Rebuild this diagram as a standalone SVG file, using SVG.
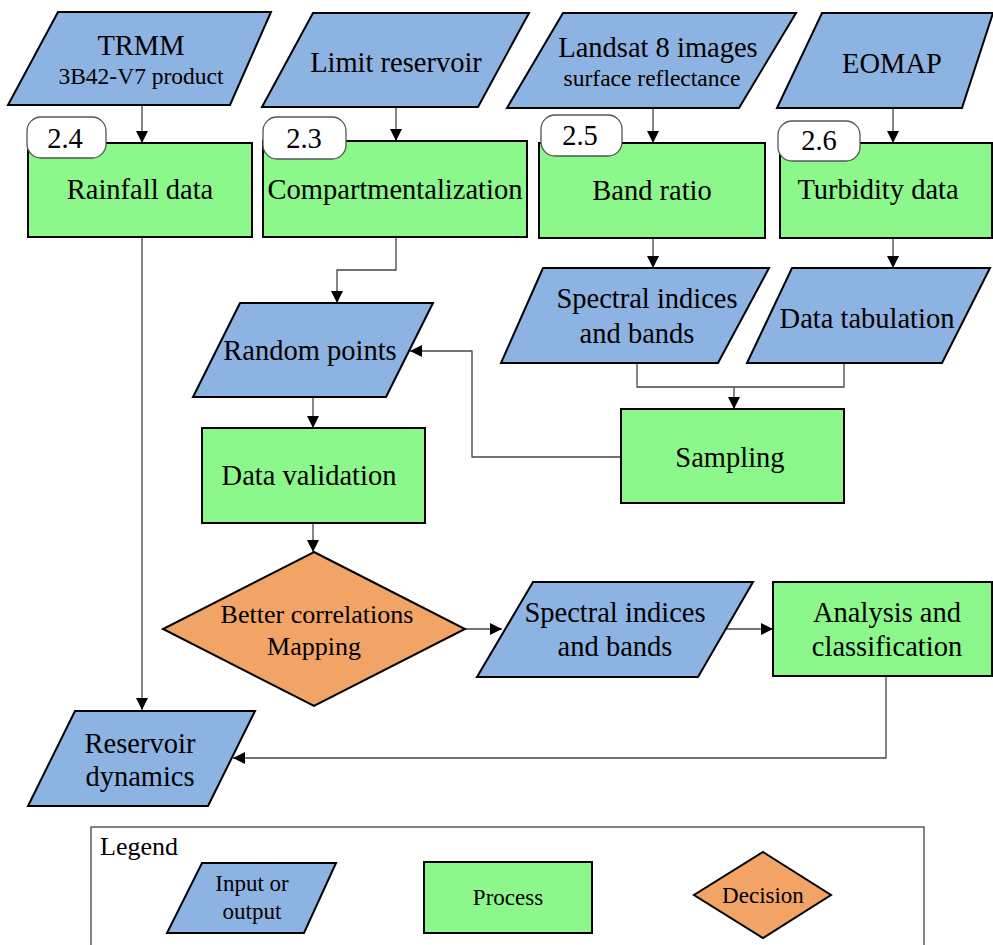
<svg xmlns="http://www.w3.org/2000/svg" width="993" height="945" viewBox="0 0 993 945">
<style>
.io{fill:#8db3e2;stroke:#000;stroke-width:2}
.pr{fill:#8cf78a;stroke:#000;stroke-width:2}
.dc{fill:#f2a466;stroke:#000;stroke-width:2}
.lb{fill:#fff;stroke:#555;stroke-width:1.3}
.c{fill:none;stroke:#444;stroke-width:1.3}
text{fill:#000;text-anchor:middle}
.t{font-size:28.5px}
.s{font-size:23.5px}
.d{font-size:26px}
.g{font-size:23px}
</style>
<defs>
<marker id="ah" markerWidth="12" markerHeight="12" refX="12" refY="6" orient="auto" markerUnits="userSpaceOnUse">
<path d="M0,0 L12,6 L0,12 Z" fill="#000"/>
</marker>
</defs>
<g id="connectors">
<line class="c" x1="142" y1="105" x2="142" y2="143" marker-end="url(#ah)"/>
<line class="c" x1="396" y1="107" x2="396" y2="141" marker-end="url(#ah)"/>
<line class="c" x1="653" y1="108" x2="653" y2="143" marker-end="url(#ah)"/>
<line class="c" x1="893" y1="108" x2="893" y2="143" marker-end="url(#ah)"/>
<polyline class="c" points="396,237 396,270 337,270 337,303" marker-end="url(#ah)"/>
<line class="c" x1="653" y1="238" x2="653" y2="268" marker-end="url(#ah)"/>
<line class="c" x1="893" y1="238" x2="893" y2="268" marker-end="url(#ah)"/>
<polyline class="c" points="637,363 637,387 844,387 844,363"/>
<line class="c" x1="734" y1="387" x2="734" y2="409" marker-end="url(#ah)"/>
<polyline class="c" points="621,457 472,457 472,351 410,351" marker-end="url(#ah)"/>
<line class="c" x1="313" y1="397" x2="313" y2="428" marker-end="url(#ah)"/>
<line class="c" x1="313" y1="523" x2="313" y2="552" marker-end="url(#ah)"/>
<line class="c" x1="465" y1="629" x2="502" y2="629" marker-end="url(#ah)"/>
<line class="c" x1="725" y1="629" x2="773" y2="629" marker-end="url(#ah)"/>
<polyline class="c" points="886,676 886,758 233,758" marker-end="url(#ah)"/>
<line class="c" x1="142" y1="237" x2="142" y2="710" marker-end="url(#ah)"/>
</g>
<g font-family="'Liberation Serif', Tinos, 'Times New Roman', serif">
<g id="trmm">
<polygon class="io" points="58,12 271,12 230,105 8,105"/>
<text class="t" x="141" y="55">TRMM</text>
<text class="s" x="141" y="84">3B42-V7 product</text>
</g>
<g id="limit-reservoir">
<polygon class="io" points="313,13 529,13 478,107 262,107"/>
<text class="t" x="396" y="72">Limit reservoir</text>
</g>
<g id="landsat">
<polygon class="io" points="563,13 796,13 739,108 507,108"/>
<text class="t" x="658" y="57">Landsat 8 images</text>
<text class="s" x="652" y="86">surface reflectance</text>
</g>
<g id="eomap">
<polygon class="io" points="822,13 993,13 962,108 777,108"/>
<text class="t" x="892" y="73">EOMAP</text>
</g>
<g id="rainfall">
<rect class="pr" x="28" y="143" width="224" height="94"/>
<rect class="lb" x="27" y="117" width="79" height="41" rx="14"/>
<text class="t" x="65" y="148">2.4</text>
<text class="t" x="140" y="199">Rainfall data</text>
</g>
<g id="compartmentalization">
<rect class="pr" x="263" y="141" width="264" height="96"/>
<rect class="lb" x="263" y="117" width="83" height="42" rx="14"/>
<text class="t" x="304" y="148">2.3</text>
<text class="t" x="395" y="199">Compartmentalization</text>
</g>
<g id="band-ratio">
<rect class="pr" x="539" y="143" width="226" height="95"/>
<rect class="lb" x="541" y="115" width="81" height="41" rx="14"/>
<text class="t" x="580" y="145">2.5</text>
<text class="t" x="652" y="200">Band ratio</text>
</g>
<g id="turbidity">
<rect class="pr" x="780" y="143" width="212" height="95"/>
<rect class="lb" x="778" y="121" width="82" height="40" rx="14"/>
<text class="t" x="819" y="150">2.6</text>
<text class="t" x="878" y="199">Turbidity data</text>
</g>
<g id="spectral1">
<polygon class="io" points="543,268 769,268 718,363 501,363"/>
<text class="t" x="647" y="308">Spectral indices</text>
<text class="t" x="637" y="343">and bands</text>
</g>
<g id="data-tabulation">
<polygon class="io" points="792,268 990,268 942,363 747,363"/>
<text class="t" x="867" y="328">Data tabulation</text>
</g>
<g id="random-points">
<polygon class="io" points="240,303 433,303 386,397 193,397"/>
<text class="t" x="310" y="360">Random points</text>
</g>
<g id="sampling">
<rect class="pr" x="621" y="409" width="223" height="94"/>
<text class="t" x="730" y="467">Sampling</text>
</g>
<g id="data-validation">
<rect class="pr" x="202" y="428" width="223" height="95"/>
<text class="t" x="309" y="485">Data validation</text>
</g>
<g id="decision">
<polygon class="dc" points="314,552 465,629 314,706 163,629"/>
<text class="d" x="317" y="623">Better correlations</text>
<text class="d" x="314" y="655">Mapping</text>
</g>
<g id="spectral2">
<polygon class="io" points="533,582 753,582 698,677 477,677"/>
<text class="t" x="615" y="622">Spectral indices</text>
<text class="t" x="615" y="656">and bands</text>
</g>
<g id="analysis">
<rect class="pr" x="773" y="582" width="219" height="94"/>
<text class="t" x="887" y="622">Analysis and</text>
<text class="t" x="887" y="656">classification</text>
</g>
<g id="reservoir-dynamics">
<polygon class="io" points="75,711 255,711 208,806 28,806"/>
<text class="t" x="140" y="753">Reservoir</text>
<text class="t" x="140" y="786">dynamics</text>
</g>
<g id="legend">
<rect x="91" y="827" width="833" height="130" fill="none" stroke="#444" stroke-width="1.3"/>
<text class="d" x="100" y="855" text-anchor="start" style="text-anchor:start">Legend</text>
<polygon class="io" points="202,863 336,863 304,933 167,933"/>
<text class="g" x="252" y="891">Input or</text>
<text class="g" x="252" y="919">output</text>
<rect class="pr" x="424" y="862" width="168" height="71"/>
<text class="g" x="508" y="905">Process</text>
<polygon class="dc" points="763,852 831,895 763,938 694,895"/>
<text class="g" x="763" y="903">Decision</text>
</g>
</g>
</svg>
